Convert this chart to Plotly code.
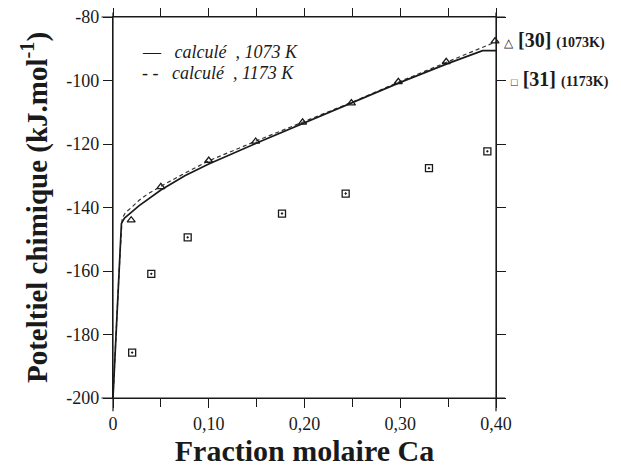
import plotly.graph_objects as go

# calculated curves
x_calc_1073 = [0.0, 0.003, 0.0064, 0.0088, 0.012, 0.016, 0.02, 0.027, 0.035, 0.05, 0.075, 0.10, 0.15, 0.20, 0.25, 0.30, 0.35, 0.386, 0.40]
y_calc_1073 = [-200.0, -180.0, -160.0, -145.0, -143.3, -142.2, -141.3, -139.5, -137.7, -134.5, -130.0, -126.3, -119.7, -113.3, -107.0, -100.6, -94.6, -90.6, -90.6]

x_calc_1173 = [0.0, 0.003, 0.0064, 0.0095, 0.013, 0.02, 0.027, 0.035, 0.05, 0.075, 0.10, 0.15, 0.20, 0.25, 0.30, 0.35, 0.40]
y_calc_1173 = [-200.0, -180.0, -160.0, -143.5, -141.6, -139.8, -137.8, -136.0, -133.3, -129.2, -125.3, -119.0, -112.8, -106.8, -100.3, -94.0, -87.8]

# experimental data
x_ref30 = [0.019, 0.05, 0.10, 0.149, 0.198, 0.249, 0.298, 0.348, 0.399]
y_ref30 = [-144.0, -133.5, -125.2, -119.2, -113.2, -107.1, -100.4, -94.1, -87.6]

x_ref31 = [0.020, 0.040, 0.078, 0.1765, 0.243, 0.330, 0.391]
y_ref31 = [-185.7, -160.9, -149.4, -141.9, -135.6, -127.6, -122.3]

x_tickvals = [0, 0.10, 0.20, 0.30, 0.40]
x_ticktext = ["0", "0,10", "0,20", "0,30", "0,40"]
y_tickvals = [-80, -100, -120, -140, -160, -180, -200]
y_ticktext = ["-80", "-100", "-120", "-140", "-160", "-180", "-200"]

SERIF = "Liberation Serif, Times New Roman, serif"
INK = "#1a1a1a"
NB = "\u00a0"

fig = go.Figure()
fig.add_trace(go.Scatter(x=x_calc_1173, y=y_calc_1173, mode="lines",
                         line=dict(color="#333", width=1.2, dash="4px,3px"),
                         name="calculé , 1173 K", showlegend=False))
fig.add_trace(go.Scatter(x=x_calc_1073, y=y_calc_1073, mode="lines",
                         line=dict(color=INK, width=1.7),
                         name="calculé , 1073 K", showlegend=False))
fig.add_trace(go.Scatter(x=x_ref30, y=y_ref30, mode="markers",
                         marker=dict(symbol="triangle-up-open", size=7, color=INK, line=dict(width=1.3)),
                         name="[30] (1073K)", showlegend=False, cliponaxis=False))
fig.add_trace(go.Scatter(x=x_ref31, y=y_ref31, mode="markers",
                         marker=dict(symbol="square-open-dot", size=7, color=INK, line=dict(width=1.3)),
                         name="[31] (1173K)", showlegend=False, cliponaxis=False))

axis_common = dict(showline=True, linecolor=INK, linewidth=1.2, mirror="allticks",
                   ticks="outside", ticklen=9, tickwidth=1.1, tickcolor=INK,
                   showgrid=False, zeroline=False, automargin=False, ticklabeloverflow="allow",
                   tickfont=dict(family=SERIF, size=18, color=INK))

fig.update_xaxes(range=[0, 0.40], tickvals=x_tickvals, ticktext=x_ticktext,
                 minor=dict(dtick=0.05, tick0=0, ticks="outside", ticklen=8, tickcolor=INK, tickwidth=1.1),
                 title=dict(text="<b>Fraction molaire Ca</b>", font=dict(family=SERIF, size=30, color=INK), standoff=2),
                 **axis_common)
fig.update_yaxes(range=[-200, -80], tickvals=y_tickvals, ticktext=y_ticktext,
                 title=dict(text="<b>Poteltiel chimique (kJ.mol<sup>-1</sup>)</b>",
                            font=dict(family=SERIF, size=29, color=INK), standoff=10),
                 **axis_common)

# extended axis lines
shapes = [
    dict(type="line", xref="paper", yref="paper", x0=-0.03, x1=1.024, y0=0, y1=0, line=dict(color=INK, width=1.2)),
    dict(type="line", xref="paper", yref="paper", x0=-0.03, x1=1.024, y0=1, y1=1, line=dict(color=INK, width=1.2)),
    dict(type="line", xref="paper", yref="paper", x0=0, x1=0, y0=-0.035, y1=1.012, line=dict(color=INK, width=1.2)),
    dict(type="line", xref="paper", yref="paper", x0=1, x1=1, y0=-0.035, y1=1.012, line=dict(color=INK, width=1.2)),
]

annotations = [
    dict(xref="paper", yref="paper", x=0.07, y=0.908, xanchor="left", yanchor="middle", showarrow=False,
         text="—" + NB * 3 + "<i>calculé" + NB * 2 + ", 1073 K</i>", font=dict(family=SERIF, size=18, color=INK)),
    dict(xref="paper", yref="paper", x=0.07, y=0.853, xanchor="left", yanchor="middle", showarrow=False,
         text="- -" + NB * 3 + "<i>calculé" + NB * 2 + ", 1173 K</i>", font=dict(family=SERIF, size=18, color=INK)),
    dict(xref="paper", yref="paper", x=1.015, y=0.94, xanchor="left", yanchor="middle", showarrow=False,
         text="<span style='font-size:12px'>△</span>" + NB + "<b>[30]</b>" + NB + "<span style='font-size:14px'><b>(1073K)</b></span>",
         font=dict(family=SERIF, size=20, color=INK)),
    dict(xref="paper", yref="paper", x=1.033, y=0.838, xanchor="left", yanchor="middle", showarrow=False,
         text="<span style='font-size:11px'>□</span>" + NB + "<b>[31]</b>" + NB + "<span style='font-size:14px'><b>(1173K)</b></span>",
         font=dict(family=SERIF, size=20, color=INK)),
]

fig.update_layout(width=621, height=471, margin=dict(l=105, r=133, t=9, b=81),
                  paper_bgcolor="white", plot_bgcolor="white",
                  shapes=shapes, annotations=annotations, showlegend=False)

fig.write_html("out.html")
